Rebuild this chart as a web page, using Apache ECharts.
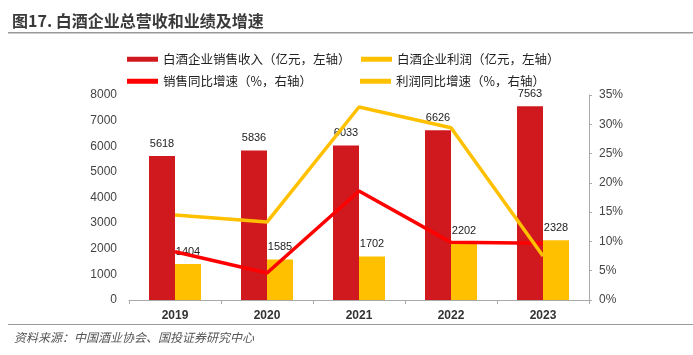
<!DOCTYPE html>
<html><head><meta charset="utf-8">
<script src="https://cdn.jsdelivr.net/npm/echarts@6/dist/echarts.min.js"></script>
<style>html,body{margin:0;padding:0;background:#fff}#c{width:693px;height:355px}</style>
</head><body><div id="c"></div>
<script>
var years = ['2019','2020','2021','2022','2023'];
var revenue = [5618, 5836, 6033, 6626, 7563];
var profit = [1404, 1585, 1702, 2202, 2328];
var revenueGrowth = [8.24, 4.61, 18.6, 9.84, 9.7];
var profitGrowth = [14.5, 13.3, 32.95, 29.4, 7.5];
var leftTicks = [0, 8000, 1000];
var rightTicks = [0, 35, 5];
var names = ['白酒企业销售收入（亿元，左轴）','白酒企业利润（亿元，左轴）','销售同比增速（%，右轴）','利润同比增速（%，右轴）'];

var cjk = "'Noto Sans CJK SC', sans-serif";
var num = "'Liberation Sans', Arial, 'Noto Sans CJK SC', sans-serif";
var chart = echarts.init(document.getElementById('c'));
function lg(i, left, top) {
  return {data:[names[i]], left:left, top:top, icon:'rect', itemWidth:31, itemHeight:5,
    itemGap:6, textStyle:{fontFamily:cjk, fontSize:12.5, color:'#222'}};
}
chart.setOption({
  animation:false,
  title:{text:'图17. 白酒企业总营收和业绩及增速', left:7, top:8,
    textStyle:{fontFamily:cjk, fontSize:16, fontWeight:'bold', color:'#3a3a3a'}},
  graphic:[
    {type:'rect', shape:{x:8, y:32, width:685, height:1.5}, style:{fill:'#999'}},
    {type:'rect', shape:{x:8, y:324, width:685, height:1}, style:{fill:'#999'}},
    {type:'text', left:14, top:331, style:{text:'资料来源：中国酒业协会、国投证券研究中心', fontFamily:cjk, fontSize:12, fontStyle:'italic', fill:'#555'}}
  ],
  legend:[lg(0,122,48), lg(1,356,48), lg(2,122,70), lg(3,355,70)],
  grid:{left:129, right:104, top:95, bottom:55},
  xAxis:{type:'category', data:years,
    axisLine:{lineStyle:{color:'#aaa'}}, axisTick:{show:true, length:4, lineStyle:{color:'#aaa'}},
    axisLabel:{fontFamily:num, fontSize:12, fontWeight:'bold', color:'#333', margin:10}},
  yAxis:[
    {type:'value', min:leftTicks[0], max:leftTicks[1], interval:leftTicks[2],
      splitLine:{show:false}, axisLine:{show:false}, axisTick:{show:false},
      axisLabel:{fontFamily:num, fontSize:12, color:'#444', margin:12, formatter:function(v){return String(v);}}},
    {type:'value', min:rightTicks[0], max:rightTicks[1], interval:rightTicks[2], position:'right',
      splitLine:{show:false}, axisLine:{show:true, lineStyle:{color:'#aaa'}},
      axisTick:{show:true, length:3, lineStyle:{color:'#aaa'}},
      axisLabel:{fontFamily:num, fontSize:12, color:'#444', margin:10, formatter:'{value}%'}}
  ],
  series:[
    {name:names[0], type:'bar', data:revenue, barWidth:26, barGap:'0%', itemStyle:{color:'#D0181F'},
      label:{show:true, position:'top', distance:7, fontFamily:num, fontSize:11, color:'#222'}},
    {name:names[1], type:'bar', data:profit, barWidth:26, barGap:'0%', itemStyle:{color:'#FFC000'},
      label:{show:true, position:'top', distance:7, fontFamily:num, fontSize:11, color:'#222'}},
    {name:names[2], type:'line', yAxisIndex:1, data:revenueGrowth, symbol:'none', z:5,
      lineStyle:{color:'#FF0000', width:3.5}, itemStyle:{color:'#FF0000'}},
    {name:names[3], type:'line', yAxisIndex:1, data:profitGrowth, symbol:'none', z:5,
      lineStyle:{color:'#FFC000', width:3.5}, itemStyle:{color:'#FFC000'}}
  ]
});
</script></body></html>
